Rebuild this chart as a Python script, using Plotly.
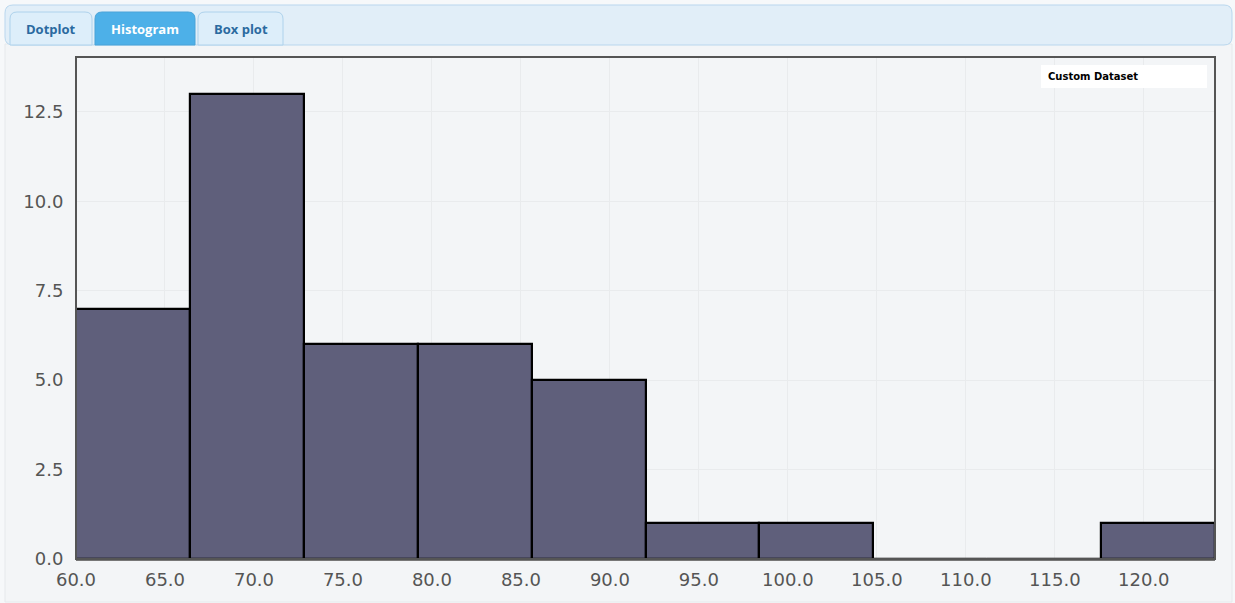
import plotly.graph_objects as go

# ---- data ----
bin_edges = [60.0, 66.4, 72.8, 79.2, 85.6, 92.0, 98.4, 104.8, 111.2, 117.6, 124.0]
counts = [7, 13, 6, 6, 5, 1, 1, 0, 0, 1]
x_ticks = [60, 65, 70, 75, 80, 85, 90, 95, 100, 105, 110, 115, 120]
y_ticks = [0, 2.5, 5, 7.5, 10, 12.5]
tab_labels = ["Dotplot", "Histogram", "Box plot"]
series_name = "Custom Dataset"

centers = [(a + b) / 2 for a, b in zip(bin_edges[:-1], bin_edges[1:])]
widths = [b - a for a, b in zip(bin_edges[:-1], bin_edges[1:])]

W, H = 1235, 603
L, R, T, B = 76, 1215, 57, 559


def px(x):
    return (x - L) / (R - L)


def py(y):
    return (B - y) / (B - T)


def rrect(x0, y0, x1, y1, r, top_only=False):
    X = lambda v: f"{px(v):.5f}"
    Y = lambda v: f"{py(v):.5f}"
    if top_only:
        return (f"M{X(x0)},{Y(y1)} L{X(x0)},{Y(y0 + r)} Q{X(x0)},{Y(y0)} {X(x0 + r)},{Y(y0)} "
                f"L{X(x1 - r)},{Y(y0)} Q{X(x1)},{Y(y0)} {X(x1)},{Y(y0 + r)} L{X(x1)},{Y(y1)} Z")
    return (f"M{X(x0 + r)},{Y(y0)} L{X(x1 - r)},{Y(y0)} Q{X(x1)},{Y(y0)} {X(x1)},{Y(y0 + r)} "
            f"L{X(x1)},{Y(y1 - r)} Q{X(x1)},{Y(y1)} {X(x1 - r)},{Y(y1)} "
            f"L{X(x0 + r)},{Y(y1)} Q{X(x0)},{Y(y1)} {X(x0)},{Y(y1 - r)} "
            f"L{X(x0)},{Y(y0 + r)} Q{X(x0)},{Y(y0)} {X(x0 + r)},{Y(y0)} Z")


fig = go.Figure()
fig.add_trace(go.Bar(
    x=centers, y=counts, width=widths, name=series_name,
    marker=dict(color="#5f5f7b", line=dict(color="#000000", width=2.2)),
    showlegend=False,
))

shapes = []
annotations = []

# container panel
shapes.append(dict(type="rect", xref="paper", yref="paper", layer="below",
                   x0=px(5), x1=px(1232), y0=py(602), y1=py(44),
                   fillcolor="#f3f5f7", line=dict(color="#e6e9ec", width=1)))
# tab bar
shapes.append(dict(type="path", xref="paper", yref="paper", layer="above",
                   path=rrect(5, 5, 1232, 45, 8),
                   fillcolor="#e1eef8", line=dict(color="#b9d7ee", width=1)))
tab_x = [(10, 92), (95, 195), (198, 283)]
for i, (lab, (a, b)) in enumerate(zip(tab_labels, tab_x)):
    active = (i == 1)
    shapes.append(dict(type="path", xref="paper", yref="paper", layer="above",
                       path=rrect(a, 12, b, 45, 7, top_only=True),
                       fillcolor="#4db0e8" if active else "#ddeefa",
                       line=dict(color="#4aa3d8" if active else "#aed2ec", width=1)))
    annotations.append(dict(x=px((a + b) / 2), y=py(29), xref="paper", yref="paper",
                            xanchor="center", yanchor="middle",
                            text=f"<b>{lab}</b>", showarrow=False,
                            font=dict(family="Open Sans", size=13,
                                      color="#ffffff" if active else "#2b6aa0")))

# plot frame
shapes.append(dict(type="rect", xref="paper", yref="paper", layer="above",
                   x0=0, x1=1, y0=0, y1=1, line=dict(color="#555555", width=2)))

# legend box
shapes.append(dict(type="rect", xref="paper", yref="paper", layer="above",
                   x0=px(1041), x1=px(1207), y0=py(88), y1=py(65),
                   fillcolor="#ffffff", line=dict(width=0)))
annotations.append(dict(x=px(1046), y=py(76.5), xref="paper", yref="paper",
                        xanchor="left", yanchor="middle", text=f"<b>{series_name}</b>",
                        showarrow=False, font=dict(family="DejaVu Sans", size=10, color="#000000")))

fig.update_layout(
    width=W, height=H,
    margin=dict(l=L, r=W - R, t=T, b=H - B, pad=0),
    paper_bgcolor="#f6f8fa",
    plot_bgcolor="#f2f4f6",
    bargap=0,
    shapes=shapes,
    annotations=annotations,
    xaxis=dict(range=[bin_edges[0], bin_edges[-1]], tickvals=x_ticks,
               ticktext=[f"{v:.1f}" for v in x_ticks],
               showgrid=True, gridcolor="#e9ebed", gridwidth=1,
               zeroline=False, showline=True, linecolor="#777777", linewidth=2,
               ticks="outside", ticklen=3, tickcolor="rgba(0,0,0,0)",
               tickfont=dict(family="DejaVu Sans", size=18, color="#555555")),
    yaxis=dict(range=[0, 14.03], tickvals=y_ticks,
               ticktext=[f"{v:.1f}" for v in y_ticks],
               showgrid=True, gridcolor="#e9ebed", gridwidth=1,
               zeroline=False, showline=False,
               ticks="outside", ticklen=8, tickcolor="rgba(0,0,0,0)",
               tickfont=dict(family="DejaVu Sans", size=18, color="#555555")),
    font=dict(family="DejaVu Sans"),
)

fig.write_html("out.html", config={"displayModeBar": False},
               post_script="document.body.style.margin='0';document.body.style.overflow='hidden';")
